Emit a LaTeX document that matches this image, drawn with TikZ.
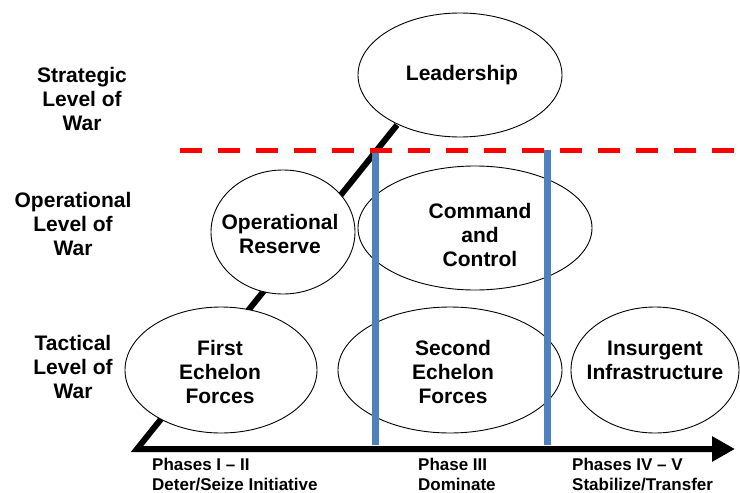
\documentclass[tikz,border=0pt]{standalone}
\usepackage{fontspec}
\setmainfont{Liberation Sans}
\usetikzlibrary{shapes.geometric,arrows.meta}
\definecolor{barblue}{HTML}{4F81BD}
\begin{document}
\begin{tikzpicture}[x=1pt,y=-1pt,
  ell/.style={draw=black, line width=0.9pt, fill=white, ellipse, inner sep=0pt},
  lvl/.style={font=\fontsize{21}{24}\selectfont\bfseries, align=center, inner sep=0pt},
  phase/.style={font=\fontsize{17}{19.5}\selectfont\bfseries, align=left, anchor=north west, inner sep=0pt},
  axisline/.style={line width=6pt, line join=miter},
  bar/.style={draw=barblue, line width=7pt},
  levelsep/.style={draw=red, line width=5pt, dash pattern=on 22pt off 16pt}
]
\useasboundingbox (0,0) rectangle (740,493);

% axis and diagonal
\coordinate (origin) at (137,449);
\coordinate (diagtop) at (397,125);
\coordinate (axisend) at (735,449);
\draw[axisline, -{Triangle[length=23pt,width=24pt]}] (diagtop) -- (origin) -- (axisend);

% ellipses
\node[ell, minimum width=204pt, minimum height=124pt] (lead) at (460,75) {};
\node[ell, minimum width=234pt, minimum height=124pt] (cc) at (475,228) {};
\node[ell, minimum width=144pt, minimum height=124pt] (opres) at (283,232) {};
\node[ell, minimum width=192pt, minimum height=126pt] (first) at (221,370) {};
\node[ell, minimum width=224pt, minimum height=126pt] (second) at (450,370) {};
\node[ell, minimum width=168pt, minimum height=126pt] (insurg) at (655,370) {};

% ellipse texts
\node[lvl] (leadtxt) at (462,75) {Leadership};
\node[lvl] (cctxt) at (480,235) {Command\\and\\Control};
\node[lvl] (oprestxt) at (280,234) {Operational\\Reserve};
\node[lvl] (firsttxt) at (220,372) {First\\Echelon\\Forces};
\node[lvl] (secondtxt) at (453,372) {Second\\Echelon\\Forces};
\node[lvl] (insurgtxt) at (655,360) {Insurgent\\Infrastructure};

% level labels
\node[lvl] (strat) at (82,99) {Strategic\\Level of\\War};
\node[lvl] (oper) at (73,224) {Operational\\Level of\\War};
\node[lvl] (tact) at (73,367) {Tactical\\Level of\\War};

% phase bars
\coordinate (b1t) at (375,149);
\coordinate (b1b) at (375,445);
\coordinate (b2t) at (547,150);
\coordinate (b2b) at (547,445);
\draw[bar] (b1t) -- (b1b);
\draw[bar] (b2t) -- (b2b);

% level separator
\coordinate (sepl) at (180,150);
\coordinate (sepr) at (740,150);
\draw[levelsep] (sepl) -- (sepr);

% phase labels
\node[phase] (ph1) at (152,458) {Phases I – II\\Deter/Seize Initiative};
\node[phase] (ph3) at (418,458) {Phase III\\Dominate};
\node[phase] (ph4) at (572,458) {Phases IV – V\\Stabilize/Transfer};
\end{tikzpicture}
\end{document}
